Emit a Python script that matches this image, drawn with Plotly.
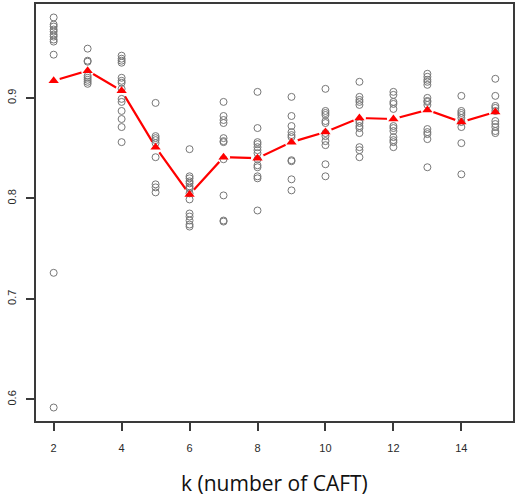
import plotly.graph_objects as go

# ---- data ----
k_values = [2, 3, 4, 5, 6, 7, 8, 9, 10, 11, 12, 13, 14, 15]

acc_k2 = [0.980, 0.973, 0.971, 0.968, 0.966, 0.963, 0.961, 0.958, 0.956, 0.943, 0.726, 0.592]
acc_k3 = [0.949, 0.937, 0.936, 0.922, 0.920, 0.918, 0.916, 0.914]
acc_k4 = [0.942, 0.939, 0.937, 0.935, 0.920, 0.917, 0.915, 0.909, 0.899, 0.896, 0.887, 0.879, 0.871, 0.856]
acc_k5 = [0.895, 0.862, 0.860, 0.858, 0.855, 0.841, 0.814, 0.811, 0.806]
acc_k6 = [0.849, 0.822, 0.820, 0.817, 0.815, 0.812, 0.810, 0.805, 0.799, 0.785, 0.782, 0.778, 0.774, 0.772]
acc_k7 = [0.896, 0.882, 0.878, 0.875, 0.860, 0.857, 0.856, 0.839, 0.803, 0.778, 0.777]
acc_k8 = [0.906, 0.870, 0.856, 0.854, 0.851, 0.848, 0.845, 0.839, 0.833, 0.831, 0.822, 0.820, 0.788]
acc_k9 = [0.901, 0.882, 0.872, 0.866, 0.863, 0.861, 0.838, 0.837, 0.819, 0.808]
acc_k10 = [0.909, 0.887, 0.885, 0.883, 0.877, 0.875, 0.865, 0.862, 0.857, 0.853, 0.834, 0.822]
acc_k11 = [0.916, 0.901, 0.898, 0.896, 0.893, 0.877, 0.875, 0.872, 0.870, 0.865, 0.851, 0.848, 0.841]
acc_k12 = [0.906, 0.903, 0.896, 0.894, 0.889, 0.872, 0.870, 0.867, 0.861, 0.858, 0.856, 0.851]
acc_k13 = [0.924, 0.921, 0.918, 0.916, 0.913, 0.900, 0.897, 0.896, 0.893, 0.869, 0.866, 0.864, 0.859, 0.831]
acc_k14 = [0.902, 0.887, 0.885, 0.883, 0.880, 0.876, 0.871, 0.855, 0.824]
acc_k15 = [0.919, 0.902, 0.892, 0.890, 0.887, 0.877, 0.874, 0.871, 0.867, 0.865]

mean_acc = [0.917, 0.927, 0.907, 0.851, 0.804, 0.841, 0.840, 0.856, 0.866, 0.880, 0.879, 0.888, 0.876, 0.886]

x_ticks = [2, 4, 6, 8, 10, 12, 14]
y_ticks = [0.6, 0.7, 0.8, 0.9]
x_title = "k (number of CAFT)"

groups = [acc_k2, acc_k3, acc_k4, acc_k5, acc_k6, acc_k7, acc_k8,
          acc_k9, acc_k10, acc_k11, acc_k12, acc_k13, acc_k14, acc_k15]

pts_x, pts_y = [], []
for k, vals in zip(k_values, groups):
    for v in vals:
        pts_x.append(k)
        pts_y.append(v)

fig = go.Figure()

# mean line
fig.add_trace(go.Scatter(x=k_values, y=mean_acc, mode="lines",
                         line=dict(color="#ff0000", width=2.2),
                         hoverinfo="skip", showlegend=False))
# white gaps around mean points (R type="b" look)
fig.add_trace(go.Scatter(x=k_values, y=mean_acc, mode="markers",
                         marker=dict(symbol="circle", size=13, color="white",
                                     line=dict(width=0)),
                         hoverinfo="skip", showlegend=False))
# individual results
fig.add_trace(go.Scatter(x=pts_x, y=pts_y, mode="markers",
                         marker=dict(symbol="circle-open", size=7,
                                     color="#777777", line=dict(width=1)),
                         showlegend=False))
# mean markers
fig.add_trace(go.Scatter(x=k_values, y=mean_acc, mode="markers",
                         marker=dict(symbol="triangle-up", size=9, color="#ff0000",
                                     line=dict(width=0)),
                         showlegend=False))

axis_common = dict(showgrid=False, zeroline=False, showline=True, mirror=True,
                   linecolor="#3a3a3a", linewidth=1.5,
                   ticks="outside", ticklen=8, tickwidth=1.5, tickcolor="#3a3a3a",
                   tickfont=dict(family="Liberation Sans, Arial, sans-serif",
                                 size=11, color="#2a2a2a"))

fig.update_xaxes(range=[1.48, 15.52], tickvals=x_ticks,
                 ticktext=[str(v) for v in x_ticks],
                 ticklabelstandoff=8, **axis_common)
fig.update_yaxes(range=[0.5786, 0.9934], tickvals=y_ticks,
                 ticktext=[f"{v:.1f}" for v in y_ticks],
                 tickangle=-90, ticklabelstandoff=6, **axis_common)

fig.add_annotation(text=x_title, xref="paper", yref="paper",
                   x=0.5, y=0, yshift=-62, showarrow=False,
                   xanchor="center", yanchor="middle",
                   font=dict(family="Open Sans, Liberation Sans, sans-serif",
                             size=21, color="#111111"))

fig.update_layout(width=517, height=497,
                  margin=dict(l=36, r=2, t=4, b=76),
                  paper_bgcolor="white", plot_bgcolor="white")

fig.write_html("out.html")
